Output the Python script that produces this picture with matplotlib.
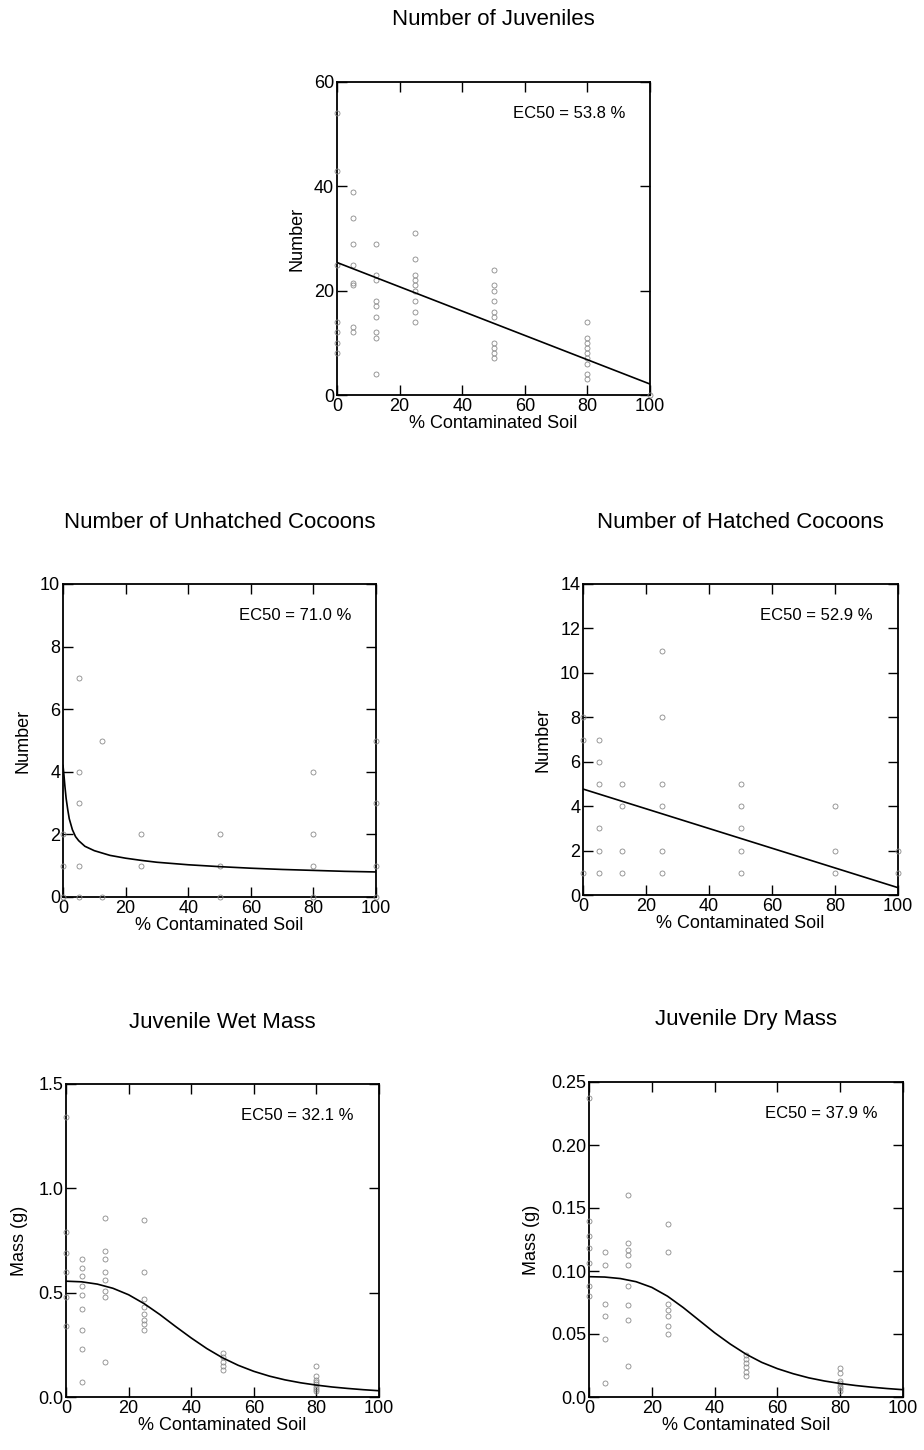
import matplotlib.pyplot as plt

plt.rcParams['font.family'] = ['Liberation Sans', 'DejaVu Sans']

# soil dilutions tested (% contaminated soil)
conc = [0, 5, 12.5, 25, 50, 80, 100]

# number of juveniles, one list per dilution
juv_vals = [[54, 43, 25, 14, 12, 10, 8],
            [39, 34, 29, 25, 21, 21.5, 13, 12],
            [29, 23, 22, 18, 17, 15, 12, 11, 4],
            [31, 26, 23, 22, 21, 20, 18, 16, 14],
            [24, 21, 20, 18, 16, 15, 10, 9, 8, 7],
            [14, 11, 10, 9, 8, 7, 6, 4, 3],
            [0]]
juv_fit_x = [0, 100]
juv_fit_y = [25.4, 2.1]

# unhatched cocoons
unh_vals = [[1, 2, 0],
            [7, 4, 3, 1, 0],
            [5, 0],
            [2, 1],
            [2, 1, 0],
            [4, 2, 1, 0],
            [5, 3, 1, 0]]
unh_fit_x = [0, 0.3, 0.6, 1, 1.5, 2, 3, 4, 5, 7, 10, 15, 20, 25, 30, 40, 50, 60, 70, 80, 90, 100]
unh_fit_y = [4.2, 3.9, 3.55, 3.15, 2.8, 2.5, 2.15, 1.93, 1.8, 1.62, 1.48, 1.33, 1.24, 1.17,
             1.11, 1.03, 0.97, 0.92, 0.88, 0.85, 0.82, 0.80]

# hatched cocoons
hat_vals = [[8, 7, 1],
            [7, 6, 5, 3, 2, 1],
            [5, 4, 2, 1],
            [11, 8, 5, 4, 2, 1],
            [5, 4, 3, 2, 1],
            [4, 2, 1],
            [2, 1]]
hat_fit_x = [0, 100]
hat_fit_y = [4.77, 0.33]

# juvenile wet mass (g)
wet_vals = [[1.34, 0.79, 0.69, 0.60, 0.48, 0.34],
            [0.66, 0.62, 0.58, 0.53, 0.49, 0.42, 0.32, 0.23, 0.07],
            [0.86, 0.70, 0.66, 0.60, 0.56, 0.51, 0.48, 0.17],
            [0.85, 0.60, 0.47, 0.43, 0.40, 0.37, 0.35, 0.32],
            [0.21, 0.19, 0.17, 0.15, 0.13],
            [0.15, 0.10, 0.08, 0.07, 0.06, 0.05, 0.04, 0.03],
            []]
mass_fit_x = [0, 5, 10, 15, 20, 25, 30, 35, 40, 45, 50, 55, 60, 65, 70, 75, 80, 85, 90, 95, 100]
wet_fit_y = [0.555, 0.552, 0.541, 0.521, 0.490, 0.447, 0.395, 0.338, 0.283, 0.232, 0.188,
             0.152, 0.123, 0.100, 0.082, 0.068, 0.057, 0.048, 0.041, 0.035, 0.030]

# juvenile dry mass (g)
dry_vals = [[0.237, 0.140, 0.128, 0.118, 0.106, 0.088, 0.080],
            [0.115, 0.105, 0.074, 0.064, 0.046, 0.011],
            [0.160, 0.122, 0.117, 0.113, 0.105, 0.088, 0.073, 0.061, 0.025],
            [0.137, 0.115, 0.074, 0.069, 0.064, 0.056, 0.050],
            [0.033, 0.030, 0.027, 0.024, 0.020, 0.017],
            [0.023, 0.019, 0.013, 0.011, 0.009, 0.007, 0.005],
            []]
dry_fit_y = [0.0955, 0.0952, 0.0940, 0.0915, 0.0870, 0.0800, 0.0710, 0.0610, 0.0510, 0.0420,
             0.0340, 0.0275, 0.0225, 0.0185, 0.0152, 0.0127, 0.0107, 0.0091, 0.0078, 0.0067,
             0.0058]

W, H = 924, 1450
fig = plt.figure(figsize=(W / 100, H / 100), dpi=100)


def make_axes(left, top, right, bottom):
    return fig.add_axes([left / W, 1 - bottom / H, (right - left) / W, (bottom - top) / H])


def panel(ax, vals, fit_x, fit_y, ymax, yticks, ylabels, ylab, ec50, title, ylab_x):
    for c, v in zip(conc, vals):
        ax.plot([c] * len(v), v, 'o', ms=3.6, mfc='none', mec='#8a8a8a', mew=0.6,
                clip_on=False, zorder=3)
    ax.plot(fit_x, fit_y, color='black', lw=1.2, zorder=4)
    ax.set_xlim(0, 100)
    ax.set_ylim(0, ymax)
    ax.set_xticks([0, 20, 40, 60, 80, 100])
    ax.set_yticks(yticks)
    ax.set_yticklabels(ylabels)
    ax.tick_params(direction='in', length=7, width=1.0, top=True, right=True,
                   labelsize=13, pad=2)
    for s in ax.spines.values():
        s.set_linewidth(1.3)
    ax.set_xlabel('% Contaminated Soil', fontsize=13)
    ax.xaxis.set_label_coords(0.5, -0.065)
    ax.set_ylabel(ylab, fontsize=13)
    ax.yaxis.set_label_coords(ylab_x, 0.5)
    ax.text(0.92, 0.90, 'EC50 = %.1f %%' % ec50, transform=ax.transAxes,
            ha='right', va='center', fontsize=12)
    bb = ax.get_position()
    fig.text((bb.x0 + bb.x1) / 2, bb.y1 + 62 / H, title, ha='center', va='center',
             fontsize=16)


ax1 = make_axes(337, 82, 650, 395)
panel(ax1, juv_vals, juv_fit_x, juv_fit_y, 60, [0, 20, 40, 60], ['0', '20', '40', '60'],
      'Number', 53.8, 'Number of Juveniles', -0.1)

ax2 = make_axes(63, 584, 376, 897)
panel(ax2, unh_vals, unh_fit_x, unh_fit_y, 10, [0, 2, 4, 6, 8, 10],
      ['0', '2', '4', '6', '8', '10'], 'Number', 71.0, 'Number of Unhatched Cocoons', -0.1)

ax3 = make_axes(583, 584, 898, 895)
panel(ax3, hat_vals, hat_fit_x, hat_fit_y, 14, [0, 2, 4, 6, 8, 10, 12, 14],
      ['0', '2', '4', '6', '8', '10', '12', '14'], 'Number', 52.9,
      'Number of Hatched Cocoons', -0.1)

ax4 = make_axes(66, 1084, 379, 1397)
panel(ax4, wet_vals, mass_fit_x, wet_fit_y, 1.5, [0, 0.5, 1.0, 1.5],
      ['0.0', '0.5', '1.0', '1.5'], 'Mass (g)', 32.1, 'Juvenile Wet Mass', -0.12)

ax5 = make_axes(589, 1082, 903, 1397)
panel(ax5, dry_vals, mass_fit_x, dry_fit_y, 0.25, [0, 0.05, 0.10, 0.15, 0.20, 0.25],
      ['0.0', '0.05', '0.10', '0.15', '0.20', '0.25'], 'Mass (g)', 37.9,
      'Juvenile Dry Mass', -0.155)

fig.savefig('out.png', dpi=100)
